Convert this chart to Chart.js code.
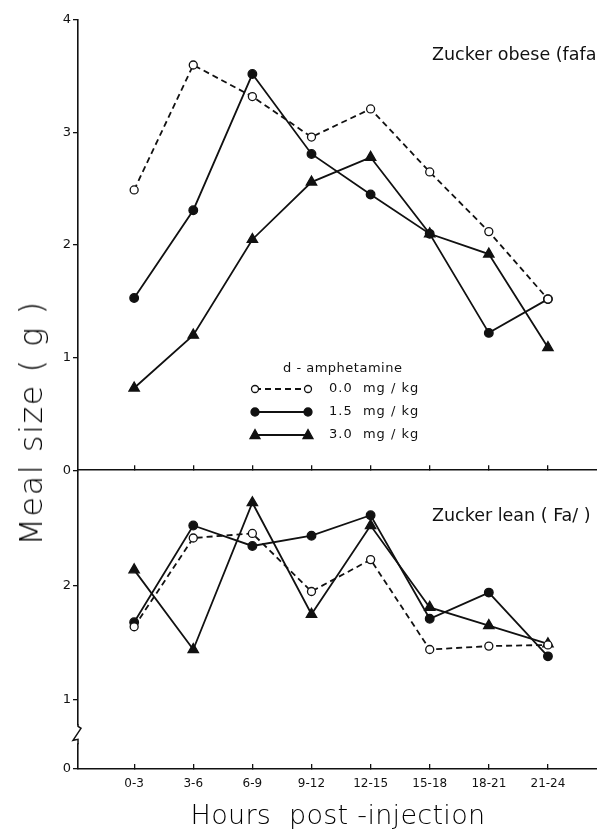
<!DOCTYPE html>
<html>
<head>
<meta charset="utf-8">
<script src="https://cdn.jsdelivr.net/npm/chart.js@4"></script>
<style>
  html, body { margin: 0; padding: 0; background: #fff; }
  #wrap { position: relative; width: 597px; height: 836px; overflow: hidden; font-family: "DejaVu Sans", sans-serif; color: #111; }
  canvas { position: absolute; left: 0; }
  #topChart { top: 0; }
  #botChart { top: 460px; }
  .lbl { position: absolute; white-space: pre; line-height: 1; }
  #ytitle { left: 31px; top: 423px; font-size: 32px; font-weight: 200; letter-spacing: 1.5px; color: #000; transform: translate(-50%, -50%) rotate(-90deg); }
  #xtitle { left: 338px; top: 814px; font-size: 27px; font-weight: 200; letter-spacing: 0.3px; color: #000; transform: translate(-50%, -50%); }
  #obese { left: 432px; top: 46px; font-size: 17.5px; }
  #lean { left: 432px; top: 507px; font-size: 17.5px; }
</style>
</head>
<body>
<div id="wrap">
  <canvas id="topChart" width="597" height="480"></canvas>
  <canvas id="botChart" width="597" height="376"></canvas>
  <div class="lbl" id="ytitle">Meal size ( g )</div>
  <div class="lbl" id="xtitle">Hours  post -injection</div>
  <div class="lbl" id="obese">Zucker obese (fafa)</div>
  <div class="lbl" id="lean">Zucker lean ( Fa/ )</div>
</div>
<script>
// ---- data ----
const categories = ['0-3', '3-6', '6-9', '9-12', '12-15', '15-18', '18-21', '21-24'];
const doseLabels = ['0.0  mg / kg', '1.5  mg / kg', '3.0  mg / kg'];

const obeseZero = [2.49, 3.60, 3.32, 2.96, 3.21, 2.65, 2.12, 1.52];
const obeseMid  = [1.53, 2.31, 3.52, 2.81, 2.45, 2.10, 1.22, 1.52];
const obeseHigh = [0.73, 1.20, 2.05, 2.56, 2.78, 2.10, 1.92, 1.09];

const leanZero = [1.64, 2.42, 2.46, 1.95, 2.23, 1.44, 1.47, 1.48];
const leanMid  = [1.68, 2.53, 2.35, 2.44, 2.62, 1.71, 1.94, 1.38];
const leanHigh = [2.14, 1.44, 2.73, 1.75, 2.53, 1.81, 1.65, 1.49];

const obeseTicks = [0, 1, 2, 3, 4];
const leanTicks = [0, 1, 2];
const leanFloor = 0.39;   // where the broken lean axis puts its "0"

const INK = '#111';

function toPoints(arr) {
  return arr.map((y, i) => ({ x: i, y: y }));
}

function makeDatasets(zero, mid, high) {
  const common = { borderColor: INK, borderWidth: 1.8, pointBorderColor: INK, pointBorderWidth: 1.3, tension: 0 };
  return [
    Object.assign({}, common, { label: doseLabels[0], data: toPoints(zero), borderDash: [6, 4], pointStyle: 'circle', pointRadius: 4, pointBackgroundColor: '#fff' }),
    Object.assign({}, common, { label: doseLabels[1], data: toPoints(mid), pointStyle: 'circle', pointRadius: 4.3, pointBackgroundColor: INK }),
    Object.assign({}, common, { label: doseLabels[2], data: toPoints(high), pointStyle: 'triangle', pointRadius: 6, pointBackgroundColor: INK })
  ];
}

const xCommon = {
  type: 'linear',
  min: -0.95,
  max: 7.83,
  afterBuildTicks: s => { s.ticks = categories.map((_, i) => ({ value: i })); },
  grid: { drawOnChartArea: false, tickLength: -5, color: INK, lineWidth: 1.3 },
  border: { color: INK, width: 1.6 }
};

function yAxis(min, max, tickVals, labelFor) {
  return {
    min: min,
    max: max,
    afterBuildTicks: s => { s.ticks = tickVals.map(v => ({ value: v })); },
    afterFit: s => { s.width = 78; },
    ticks: { color: INK, font: { family: 'DejaVu Sans', size: 13 }, padding: 2, callback: labelFor },
    grid: { drawOnChartArea: false, tickLength: 5, color: INK, lineWidth: 1.3 },
    border: { color: INK, width: 1.6 }
  };
}

// legend drawn inside the obese panel
const doseLegend = {
  id: 'doseLegend',
  afterDraw(chart) {
    const ctx = chart.ctx;
    ctx.save();
    ctx.fillStyle = INK;
    ctx.font = '13px "DejaVu Sans"';
    ctx.letterSpacing = '0.5px';
    ctx.textBaseline = 'middle';
    ctx.textAlign = 'left';
    ctx.fillText('d - amphetamine', 283, 369);
    const rows = [389, 412, 435];
    chart.data.datasets.forEach((ds, i) => {
      const y = rows[i];
      ctx.strokeStyle = INK;
      ctx.lineWidth = 1.8;
      ctx.setLineDash(ds.borderDash || []);
      ctx.beginPath();
      ctx.moveTo(255, y);
      ctx.lineTo(308, y);
      ctx.stroke();
      ctx.setLineDash([]);
      [255, 308].forEach(px => {
        ctx.beginPath();
        if (ds.pointStyle === 'triangle') {
          ctx.moveTo(px, y - 5.5);
          ctx.lineTo(px + 5, y + 3.5);
          ctx.lineTo(px - 5, y + 3.5);
          ctx.closePath();
        } else {
          ctx.arc(px, y, ds.pointBackgroundColor === '#fff' ? 3.5 : 4, 0, Math.PI * 2);
        }
        ctx.fillStyle = ds.pointBackgroundColor;
        ctx.fill();
        ctx.lineWidth = 1.3;
        ctx.stroke();
      });
      ctx.fillStyle = INK;
      ctx.letterSpacing = '1px';
      ctx.fillText(ds.label, 329, y);
    });
    ctx.restore();
  }
};

// zigzag break on the lean y axis
const axisBreak = {
  id: 'axisBreak',
  afterDraw(chart) {
    const ctx = chart.ctx;
    const y = chart.scales.y;
    const left = chart.chartArea.left;
    const c = y.getPixelForValue((leanFloor + 1) / 2);
    ctx.save();
    ctx.fillStyle = '#fff';
    ctx.fillRect(left - 3, c - 9, 6, 18);
    ctx.strokeStyle = INK;
    ctx.lineWidth = 1.5;
    ctx.beginPath();
    ctx.moveTo(left, c - 10);
    ctx.lineTo(left, c - 8);
    ctx.lineTo(left + 3, c - 6);
    ctx.lineTo(left - 5, c + 6);
    ctx.lineTo(left, c + 5);
    ctx.lineTo(left, c + 10);
    ctx.stroke();
    ctx.restore();
  }
};

const baseOptions = {
  responsive: false,
  animation: false,
  plugins: { legend: { display: false }, tooltip: { enabled: false } }
};

new Chart(document.getElementById('topChart'), {
  type: 'line',
  data: { datasets: makeDatasets(obeseZero, obeseMid, obeseHigh) },
  options: Object.assign({}, baseOptions, {
    layout: { autoPadding: false, padding: { top: 20, right: 0, bottom: 0, left: 0 } },
    scales: {
      x: Object.assign({}, xCommon, { ticks: { display: false }, afterFit: s => { s.height = 8; } }),
      y: yAxis(0, 4, obeseTicks, v => v)
    }
  }),
  plugins: [doseLegend]
});

new Chart(document.getElementById('botChart'), {
  type: 'line',
  data: { datasets: makeDatasets(leanZero, leanMid, leanHigh) },
  options: Object.assign({}, baseOptions, {
    layout: { autoPadding: false, padding: { top: 12, right: 0, bottom: 0, left: 0 } },
    scales: {
      x: Object.assign({}, xCommon, {
        ticks: { color: INK, font: { family: 'DejaVu Sans', size: 12 }, padding: 13, maxRotation: 0, autoSkip: false, callback: v => categories[v] },
        afterFit: s => { s.height = 67; }
      }),
      y: yAxis(leanFloor, 3, leanTicks.map(v => v === 0 ? leanFloor : v), v => v === leanFloor ? '0' : v)
    }
  }),
  plugins: [axisBreak]
});
</script>
</body>
</html>
